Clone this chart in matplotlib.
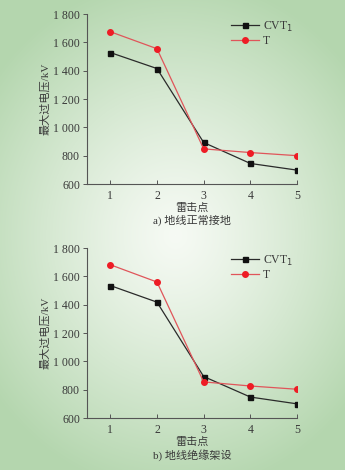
import numpy as np
import matplotlib.pyplot as plt

plt.rcParams['font.family'] = ['Liberation Serif', 'Noto Sans CJK SC']
plt.rcParams['axes.unicode_minus'] = False

points = [1, 2, 3, 4, 5]
cvt_a = [1528, 1415, 893, 745, 698]
t_a = [1675, 1555, 848, 822, 800]
cvt_b = [1535, 1418, 893, 748, 700]
t_b = [1682, 1560, 855, 826, 803]
captions = ['a) 地线正常接地', 'b) 地线绝缘架设']
yticks = [600, 800, 1000, 1200, 1400, 1600, 1800]
ytick_labels = ['600', '800', '1 000', '1 200', '1 400', '1 600', '1 800']

text_c = '#3a3a3a'

fig = plt.figure(figsize=(3.45, 4.70), dpi=100)

# green background with a pale radial glow in the middle
bg = fig.add_axes([0, 0, 1, 1], zorder=-10)
yy, xx = np.mgrid[0:470, 0:345]
d = np.sqrt(((xx - 175) / 230.0) ** 2 + ((yy - 235) / 260.0) ** 2)
d = np.clip(d, 0, 1) ** 1.2
edge = np.array([180, 214, 174]) / 255.0
center = np.array([246, 250, 244]) / 255.0
img = center[None, None, :] * (1 - d[..., None]) + edge[None, None, :] * d[..., None]
bg.imshow(img, aspect='auto', extent=[0, 1, 0, 1])
bg.axis('off')

axes_pos = [[0.252, 0.6085, 0.609, 0.3617], [0.252, 0.1106, 0.609, 0.3617]]
data = [(cvt_a, t_a), (cvt_b, t_b)]

for pos, (cvt, t), cap in zip(axes_pos, data, captions):
    ax = fig.add_axes(pos)
    ax.patch.set_alpha(0)
    ax.plot(points, cvt, color='#2a2a2a', lw=0.9, marker='s', ms=3.6,
            mfc='#111111', mec='#111111', label='CVT$_1$')
    ax.plot(points, t, color='#e0555a', lw=0.9, marker='o', ms=4,
            mfc='#ee1c25', mec='#ee1c25', label='T')
    ax.set_xlim(0.5, 5)
    ax.set_ylim(600, 1800)
    ax.set_xticks(points)
    ax.set_yticks(yticks)
    ax.set_yticklabels(ytick_labels)
    for s in ['top', 'right']:
        ax.spines[s].set_visible(False)
    for s in ['left', 'bottom']:
        ax.spines[s].set_color('#555555')
        ax.spines[s].set_linewidth(0.8)
    ax.tick_params(axis='x', direction='in', length=3, width=0.7, colors='#555555',
                   labelcolor=text_c, labelsize=8.5, pad=4)
    ax.tick_params(axis='y', direction='out', length=3, width=0.7, colors='#555555',
                   labelcolor=text_c, labelsize=8.5, pad=2)
    ax.set_ylabel('最大过电压/kV', fontsize=8, color=text_c, labelpad=2)
    ax.set_xlabel('雷击点', fontsize=8, color=text_c, labelpad=1)
    ax.text(0.5, -0.18, cap, transform=ax.transAxes, ha='center', va='top',
            fontsize=8, color=text_c)
    leg = ax.legend(loc='upper right', bbox_to_anchor=(1.03, 1.03), frameon=False,
                    fontsize=8.5, handlelength=2.4, labelspacing=0.1,
                    handletextpad=0.3)
    for txt in leg.get_texts():
        txt.set_color(text_c)

fig.savefig('out.png', dpi=100)
